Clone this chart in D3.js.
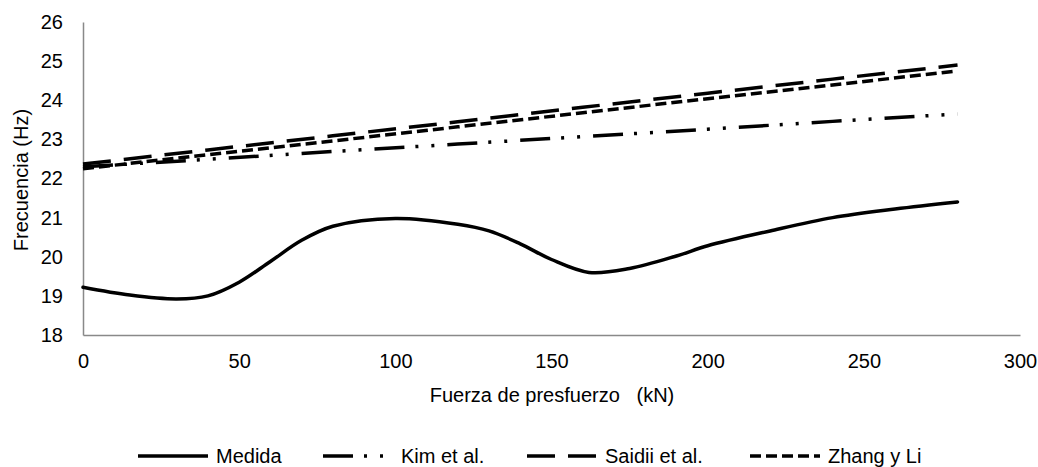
<html>
<style>
  body{ margin:0; background-color:#fff; }
  text{ font-family:"Liberation Sans", Arial, sans-serif; font-size:20px; fill:#000; }
  .axis path{ stroke:#898989; stroke-width:1.5; }
  .serie{ fill:none; stroke:#000; stroke-width:3.5; }
</style>
<script src='https://d3js.org/d3.v7.min.js'></script>
<body>
  <svg id="graf" width="1038" height="467"></svg>
</body>
<script>
  // Medida (frecuencia medida vs fuerza)
  let fuerzaMedida = [0,15,30,40,50,60,70,80,100,120,130,140,150,162,175,190,200,220,240,260,280];
  let medida = [19.22,19.02,18.92,19.0,19.35,19.88,20.42,20.78,20.98,20.83,20.66,20.33,19.93,19.6,19.7,20.02,20.28,20.66,21.0,21.22,21.4];

  // modelos
  let fuerzaModelo = [0,40,80,120,160,200,240,280];
  let kim = [22.30,22.49,22.69,22.88,23.07,23.26,23.46,23.65];
  let saidii = [22.37,22.73,23.09,23.45,23.82,24.18,24.54,24.90];
  let zhang = [22.25,22.61,22.96,23.32,23.68,24.04,24.39,24.75];

  let ticksX = [0,50,100,150,200,250,300];
  let ticksY = [18,19,20,21,22,23,24,25,26];
  let nombres = ["Medida","Kim et al.","Saidii et al.","Zhang y Li"];
  let dashes = [null,"30,11,3,13,3,13","28,13","11,5"];

  let svg = d3.select("#graf");
  let x = d3.scaleLinear().domain([0,300]).range([83,1020]);
  let y = d3.scaleLinear().domain([18,26]).range([335,22]);

  svg.append("g").attr("class","axis").attr("transform","translate(0,335)")
    .call(d3.axisBottom(x).tickValues(ticksX).tickSize(0).tickPadding(19));
  svg.append("g").attr("class","axis").attr("transform","translate(83,0)")
    .call(d3.axisLeft(y).tickValues(ticksY).tickSize(0).tickPadding(20));
  svg.selectAll(".axis text").style("font-size","20px").style("font-family","'Liberation Sans', Arial, sans-serif").attr("fill","#000");
  svg.selectAll(".axis path").attr("stroke","#898989");

  svg.append("text").attr("x",552).attr("y",402).attr("text-anchor","middle")
    .attr("xml:space","preserve").text("Fuerza de presfuerzo   (kN)");
  svg.append("text").attr("transform","translate(28,180) rotate(-90)").attr("text-anchor","middle")
    .text("Frecuencia (Hz)");

  let linea = d3.line().x(d => x(d[0])).y(d => y(d[1])).curve(d3.curveCatmullRom);
  let lineaRecta = d3.line().x(d => x(d[0])).y(d => y(d[1]));

  let series = [
    fuerzaMedida.map((f,i) => [f, medida[i]]),
    fuerzaModelo.map((f,i) => [f, kim[i]]),
    fuerzaModelo.map((f,i) => [f, saidii[i]]),
    fuerzaModelo.map((f,i) => [f, zhang[i]])
  ];

  // dibujar los modelos primero, la medida encima
  for(let s = 3; s >= 0; s--){
    svg.append("path").attr("class","serie")
      .attr("d", s==0 ? linea(series[s]) : lineaRecta(series[s]))
      .attr("stroke-dasharray", dashes[s])
      .attr("stroke-linecap", s==0 ? "round" : "butt");
  }

  // leyenda
  let leyX = [138,323,527,750];
  let leyY = 456;
  for(let s = 0; s < 4; s++){
    svg.append("line").attr("class","serie")
      .attr("x1",leyX[s]).attr("x2",leyX[s]+70).attr("y1",leyY).attr("y2",leyY)
      .attr("stroke-dasharray", dashes[s]);
    svg.append("text").attr("x",leyX[s]+78).attr("y",leyY+7).text(nombres[s]);
  }
</script>
</html>
